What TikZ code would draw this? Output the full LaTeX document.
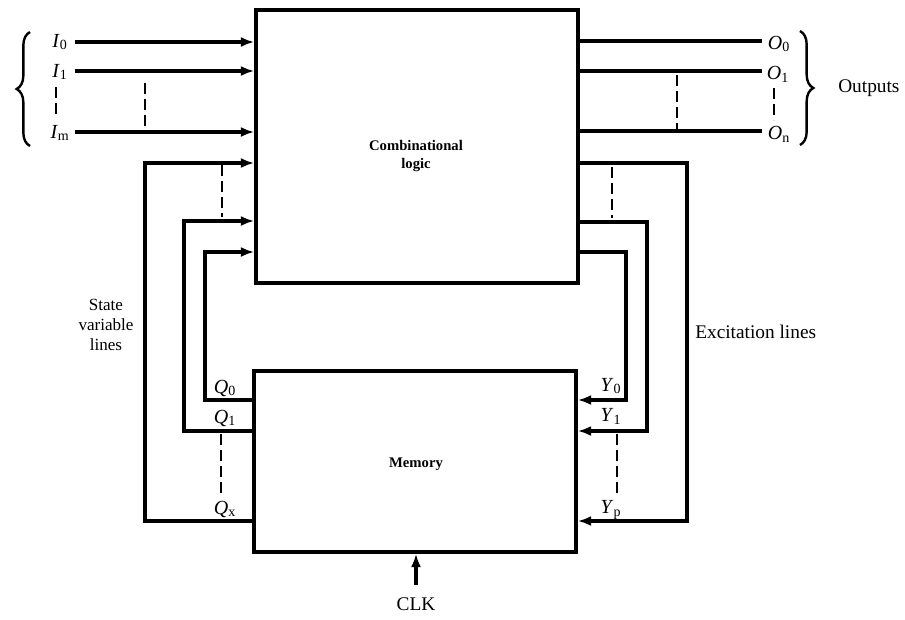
\documentclass[tikz,border=0pt]{standalone}
\usepackage{fontspec}
\setmainfont{Liberation Serif}
\usetikzlibrary{arrows.meta,decorations.pathreplacing}
\newcommand\lbl[2]{\textit{#1}\textsubscript{#2}}
\begin{document}
\begin{tikzpicture}[x=0.75pt,y=-0.75pt,
  wire/.style={line width=2.4pt},
  arr/.style={line width=2.4pt,-{Latex[length=10pt,width=7.5pt]}},
  dsh/.style={line width=1.2pt,dash pattern=on 8pt off 4pt},
  block/.style={draw,line width=2.6pt,fill=white,inner sep=0pt},
  blocktxt/.style={font=\fontsize{11}{13.5}\selectfont\bfseries,align=center,inner sep=0pt},
  sig/.style={font=\fontsize{15}{17}\selectfont,inner sep=0pt},
  txt/.style={font=\fontsize{14.5}{17}\selectfont,inner sep=0pt,align=center},
  brc/.style={line width=1.8pt,decorate,decoration={brace,amplitude=10pt}}]
\useasboundingbox (0,0) rectangle (905,619);
\node[block,minimum width=241.5pt,minimum height=204.75pt] (comb) at (417,146.5) {};
\node[blocktxt] (combtxt) at (416,156) {Combinational\\logic};
\node[block,minimum width=241.5pt,minimum height=135.75pt] (mem) at (415,461.5) {};
\node[blocktxt] (memtxt) at (416,464) {Memory};
% inputs
\coordinate (i0) at (75,42);
\coordinate (i1) at (75,71);
\coordinate (im) at (75,132);
\draw[arr] (i0) -- (i0 -| comb.west);
\draw[arr] (i1) -- (i1 -| comb.west);
\draw[arr] (im) -- (im -| comb.west);
\node[sig] (li0) at (60,42) {\lbl{I}{0}};
\node[sig] (li1) at (60,72) {\lbl{I}{1}};
\node[sig] (lim) at (60,133) {\lbl{I}{m}};
\coordinate (dl1) at (56,87);
\coordinate (dl2) at (56,118);
\draw[dsh] (dl1) -- (dl2);
\coordinate (di1) at (145,83);
\coordinate (di2) at (145,128);
\draw[dsh] (di1) -- (di2);
\coordinate (b1) at (30,146);
\coordinate (b2) at (30,32);
\draw[brc] (b1) -- (b2);
% outputs
\coordinate (o0) at (762,41);
\coordinate (o1) at (762,71);
\coordinate (on) at (762,131);
\draw[wire] (o0 -| comb.east) -- (o0);
\draw[wire] (o1 -| comb.east) -- (o1);
\draw[wire] (on -| comb.east) -- (on);
\node[sig] (lo0) at (779,44) {\lbl{O}{0}};
\node[sig] (lo1) at (778,74) {\lbl{O}{1}};
\node[sig] (lon) at (779,134) {\lbl{O}{n}};
\coordinate (dr1) at (774,88);
\coordinate (dr2) at (774,120);
\draw[dsh] (dr1) -- (dr2);
\coordinate (do1) at (677,75);
\coordinate (do2) at (677,129);
\draw[dsh] (do1) -- (do2);
\coordinate (c1) at (800,31);
\coordinate (c2) at (800,145);
\draw[brc] (c1) -- (c2);
\node[txt,anchor=west] (outs) at (838,88) {Outputs};
% state variable lines (left)
\draw[arr] (mem.west |- 0,521) -- (145,521) |- (comb.west |- 0,163);
\draw[arr] (mem.west |- 0,431) -- (184,431) |- (comb.west |- 0,221);
\draw[arr] (mem.west |- 0,400) -- (205,400) |- (comb.west |- 0,252);
\coordinate (ds1) at (222,165);
\coordinate (ds2) at (222,217);
\draw[dsh] (ds1) -- (ds2);
\node[sig] (q0) at (225,388) {\lbl{Q}{0}};
\node[sig] (q1) at (225,418) {\lbl{Q}{1}};
\node[sig] (qx) at (225,509) {\lbl{Q}{x}};
\coordinate (dq1) at (221,434);
\coordinate (dq2) at (221,495);
\draw[dsh] (dq1) -- (dq2);
\node[txt,font=\fontsize{12.8}{15}\selectfont] (svl) at (106,325) {State\\variable\\lines};
% excitation lines (right)
\draw[arr] (comb.east |- 0,163) -| (687,521) -- (mem.east |- 0,521);
\draw[arr] (comb.east |- 0,222) -| (647,431) -- (mem.east |- 0,431);
\draw[arr] (comb.east |- 0,252) -| (626,400) -- (mem.east |- 0,400);
\coordinate (de1) at (612,167);
\coordinate (de2) at (612,218);
\draw[dsh] (de1) -- (de2);
\node[sig] (y0) at (611,386) {\lbl{Y}{0}};
\node[sig] (y1) at (611,416) {\lbl{Y}{1}};
\node[sig] (yp) at (611,510) {\lbl{Y}{p}};
\coordinate (dy1) at (617,434);
\coordinate (dy2) at (617,495);
\draw[dsh] (dy1) -- (dy2);
\node[txt,anchor=west] (exl) at (695,332) {Excitation lines};
% clock
\node[txt] (clk) at (416,604) {CLK};
\draw[arr] (clk.north |- 0,585) -- (clk.north |- mem.south);
\end{tikzpicture}
\end{document}
